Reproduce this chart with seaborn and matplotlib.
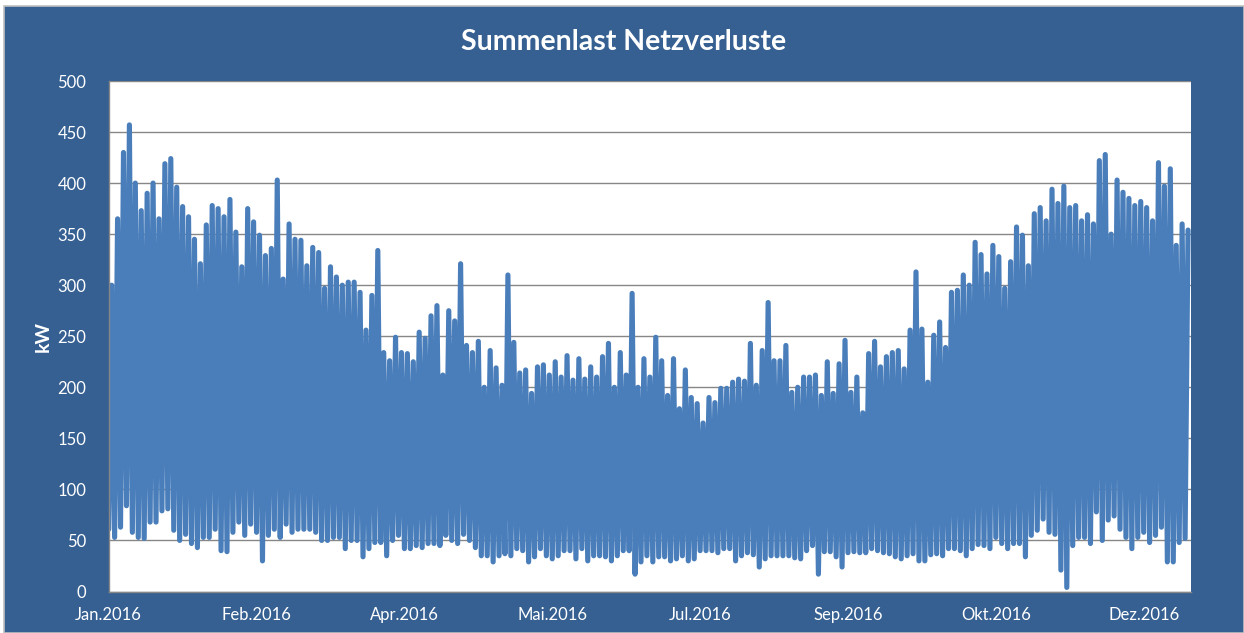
"""
Summenlast Netzverluste 2016 - Nachbau des Excel-Diagramms mit seaborn.
Werte aus dem Bild abgelesen: alle 2 Tage Tiefst- und Spitzenwert (kW).
"""
import matplotlib
matplotlib.use("Agg")
import matplotlib.pyplot as plt
from matplotlib.patches import Rectangle
import pandas as pd
import seaborn as sns

# Spitzenwerte (kW), Tage 0, 2, 4, ... 364
peak_kw = [
    300, 365, 430, 457, 400, 373, 390, 400, 365, 419, 424, 396, 377, 367, 345, 321,
    359, 378, 375, 367, 384, 352, 318, 375, 362, 349, 329, 336, 403, 306, 360,
    345, 344, 319, 337, 332, 297, 318, 308, 300, 303, 303, 293, 256, 290, 334,
    234, 226, 249, 234, 233, 225, 254, 248, 270, 280, 212, 275, 265, 321, 241,
    234, 245, 200, 236, 219, 202, 310, 244, 214, 217, 194, 220, 222, 212, 225,
    210, 231, 207, 228, 208, 220, 210, 230, 243, 200, 234, 212, 292, 200, 228, 210,
    249, 226, 192, 228, 179, 217, 190, 184, 165, 190, 185, 199, 199, 205, 208,
    206, 243, 202, 236, 283, 226, 226, 241, 195, 200, 210, 210, 212, 192, 225,
    194, 223, 246, 195, 210, 175, 233, 245, 220, 230, 234, 236, 218, 256, 313,
    257, 205, 251, 264, 239, 293, 295, 310, 300, 342, 330, 311, 339, 328, 297, 323,
    357, 349, 319, 370, 376, 363, 394, 380, 397, 376, 378, 363, 369, 360, 422,
    428, 350, 403, 391, 385, 378, 382, 376, 363, 420, 397, 414, 339, 360, 354,
]

# Tiefstwerte (kW), gleiche Tage
low_kw = [
    61, 53, 63, 84, 58, 53, 52, 68, 68, 79, 81, 60, 50, 56, 47, 43,
    53, 53, 61, 40, 39, 58, 68, 55, 66, 58, 30, 55, 61, 53, 66,
    58, 61, 61, 61, 58, 50, 50, 53, 53, 42, 50, 50, 34, 42, 48,
    48, 35, 50, 55, 42, 42, 45, 43, 47, 47, 45, 55, 50, 47, 56,
    50, 43, 35, 35, 29, 35, 37, 35, 42, 40, 29, 34, 42, 35, 32,
    35, 40, 40, 32, 42, 30, 35, 35, 34, 30, 35, 40, 40, 17, 29, 35,
    29, 34, 34, 30, 32, 35, 30, 32, 40, 40, 40, 38, 42, 42, 30,
    35, 38, 36, 24, 32, 35, 35, 35, 35, 33, 32, 40, 45, 17, 39,
    39, 34, 24, 38, 39, 38, 38, 42, 40, 38, 37, 34, 32, 35, 37,
    30, 30, 36, 37, 35, 42, 42, 40, 35, 42, 46, 45, 42, 53, 47, 42,
    47, 47, 34, 55, 60, 71, 58, 56, 21, 4, 45, 53, 53, 47, 78,
    50, 70, 74, 61, 53, 42, 53, 58, 48, 55, 63, 29, 29, 48, 52,
]

# Achsbeschriftung wie im Original (Excel: Hauptintervall 50 Tage)
tick_days = [0, 50, 100, 150, 200, 250, 300, 350]
tick_labels = ["Jan.2016", "Feb.2016", "Apr.2016", "Mai.2016",
               "Jul.2016", "Sep.2016", "Okt.2016", "Dez.2016"]

BG = "#366092"
LINE = "#4A7EBB"
GRID = "#878787"


def main():
    sns.set_theme(style="white")
    plt.rcParams["font.family"] = ["Lato", "DejaVu Sans"]

    # Zickzack: Tiefstwert am geraden Tag, Spitze am Tag danach
    rows = []
    for i, (lo, hi) in enumerate(zip(low_kw, peak_kw)):
        rows.append((2 * i, lo))
        rows.append((2 * i + 1, hi))
    df = pd.DataFrame(rows, columns=["tag", "kW"])

    fig = plt.figure(figsize=(12.44, 6.33), dpi=100, facecolor="white")
    # blauer Diagrammbereich mit hellgrauem Rand (hinter den Achsen)
    fig.patches.append(Rectangle((4 / 1244, 0), 1 - 4 / 1244, 1 - 6 / 633,
                                 transform=fig.transFigure, facecolor=BG,
                                 edgecolor="#c0c0c0", linewidth=1.2, zorder=-5))

    ax = fig.add_axes([108.7 / 1244, 1 - 591.5 / 633,
                       (1191 - 108.7) / 1244, (591.5 - 81) / 633])
    ax.set_facecolor("white")

    sns.lineplot(data=df, x="tag", y="kW", ax=ax, color=LINE, linewidth=3.7,
                 estimator=None, sort=False)
    for ln in ax.get_lines():
        ln.set_solid_joinstyle("round")
        ln.set_solid_capstyle("round")

    ax.set_xlim(0, 366)
    ax.set_ylim(0, 500)
    ax.set_yticks(range(0, 501, 50))
    ax.set_xticks(tick_days)
    ax.set_xticklabels(tick_labels)

    ax.yaxis.grid(True, color=GRID, linewidth=1.0)
    ax.set_axisbelow(True)
    for side in ["top", "right"]:
        ax.spines[side].set_visible(False)
    for side in ["left", "bottom"]:
        ax.spines[side].set_color(GRID)
        ax.spines[side].set_linewidth(1.0)

    ax.tick_params(axis="both", colors=GRID, direction="out", length=4,
                   width=1.0, labelcolor="white", labelsize=12)
    ax.tick_params(axis="y", pad=12)
    ax.tick_params(axis="x", pad=7)

    ax.set_xlabel("")
    ax.set_ylabel("kW", color="white", fontsize=14, fontweight="bold",
                  labelpad=4)

    fig.text(624 / 1244, 1 - 42 / 633, "Summenlast Netzverluste",
             ha="center", va="center", color="white", fontsize=20.5,
             fontweight="bold")

    fig.savefig("out.png", dpi=100, facecolor=fig.get_facecolor())
    plt.close(fig)


if __name__ == "__main__":
    main()
